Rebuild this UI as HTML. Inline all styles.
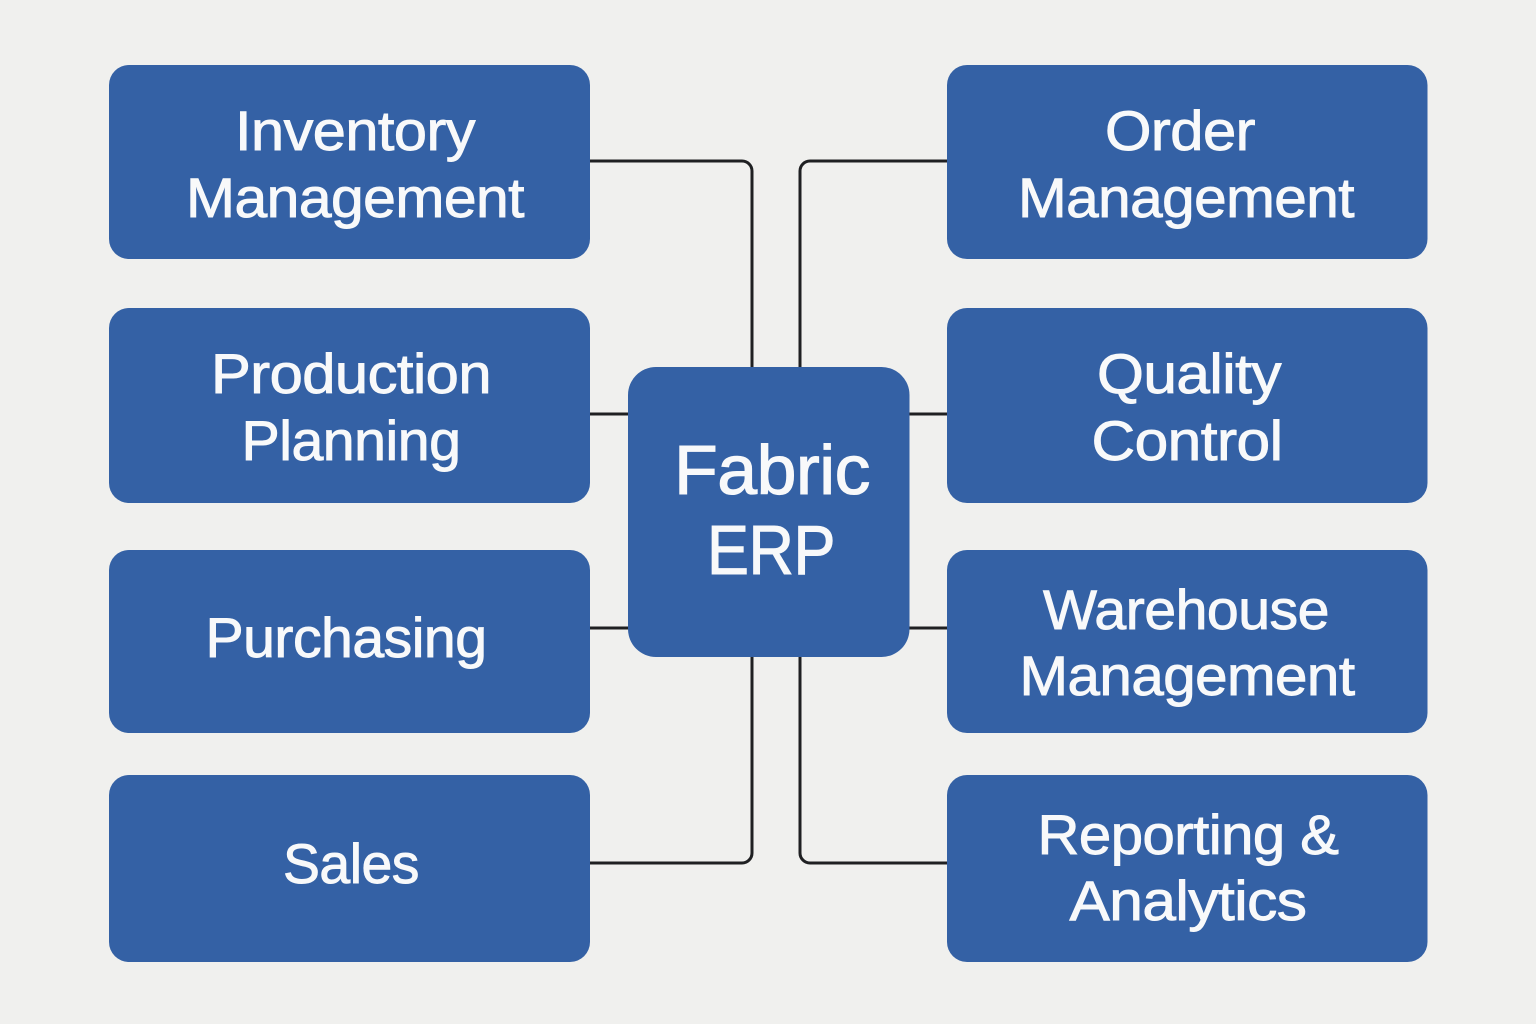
<!DOCTYPE html>
<html>
<head>
<meta charset="utf-8">
<style>
html,body{margin:0;padding:0;background:#f0f0ee;}
#c{position:relative;width:1536px;height:1024px;overflow:hidden;background:#f0f0ee;}
svg{position:absolute;left:0;top:0;}
text{font-family:"Liberation Sans",sans-serif;fill:#f8f9fa;stroke:#f8f9fa;stroke-width:0.9px;text-anchor:middle;font-size:56px;letter-spacing:-0.5px;}
</style>
</head>
<body>
<div id="c">
<svg width="1536" height="1024" viewBox="0 0 1536 1024">
<g fill="none" stroke="#1f2022" stroke-width="3">
<path d="M589 161H742a10 10 0 0 1 10 10V368"/>
<path d="M948 161H810a10 10 0 0 0 -10 10V368"/>
<path d="M589 414H628"/>
<path d="M909 414H948"/>
<path d="M589 628H628"/>
<path d="M909 628H948"/>
<path d="M589 863H742a10 10 0 0 0 10 -10V656"/>
<path d="M948 863H810a10 10 0 0 1 -10 -10V656"/>
</g>
<g fill="#3461a5">
<rect x="109" y="65" width="481" height="194" rx="20"/>
<rect x="109" y="308" width="481" height="195" rx="20"/>
<rect x="109" y="550" width="481" height="183" rx="20"/>
<rect x="109" y="775" width="481" height="187" rx="20"/>
<rect x="947" y="65" width="480.5" height="194" rx="20"/>
<rect x="947" y="308" width="480.5" height="195" rx="20"/>
<rect x="947" y="550" width="480.5" height="183" rx="20"/>
<rect x="947" y="775" width="480.5" height="187" rx="20"/>
<rect x="628" y="367" width="281.5" height="290" rx="28"/>
</g>
<text x="355" y="150" textLength="240" lengthAdjust="spacingAndGlyphs">Inventory</text>
<text x="355" y="217" textLength="338" lengthAdjust="spacingAndGlyphs">Management</text>
<text x="351" y="393" textLength="280" lengthAdjust="spacingAndGlyphs">Production</text>
<text x="351" y="460" textLength="219" lengthAdjust="spacingAndGlyphs">Planning</text>
<text x="346" y="657" textLength="281" lengthAdjust="spacingAndGlyphs">Purchasing</text>
<text x="351" y="883" textLength="136" lengthAdjust="spacingAndGlyphs">Sales</text>
<text x="1180" y="150" textLength="150" lengthAdjust="spacingAndGlyphs">Order</text>
<text x="1186" y="217" textLength="336" lengthAdjust="spacingAndGlyphs">Management</text>
<text x="1189" y="393" textLength="184" lengthAdjust="spacingAndGlyphs">Quality</text>
<text x="1187" y="460" textLength="191" lengthAdjust="spacingAndGlyphs">Control</text>
<text x="1186" y="629" textLength="286" lengthAdjust="spacingAndGlyphs">Warehouse</text>
<text x="1187" y="695" textLength="335" lengthAdjust="spacingAndGlyphs">Management</text>
<text x="1188" y="854" textLength="301" lengthAdjust="spacingAndGlyphs">Reporting &amp;</text>
<text x="1188" y="920" textLength="237" lengthAdjust="spacingAndGlyphs">Analytics</text>
<text x="772" y="494" style="font-size:70px;stroke-width:1.1px" textLength="196" lengthAdjust="spacingAndGlyphs">Fabric</text>
<text x="771" y="574" style="font-size:70px;stroke-width:1.1px" textLength="128" lengthAdjust="spacingAndGlyphs">ERP</text>
</svg>
</div>
</body>
</html>
